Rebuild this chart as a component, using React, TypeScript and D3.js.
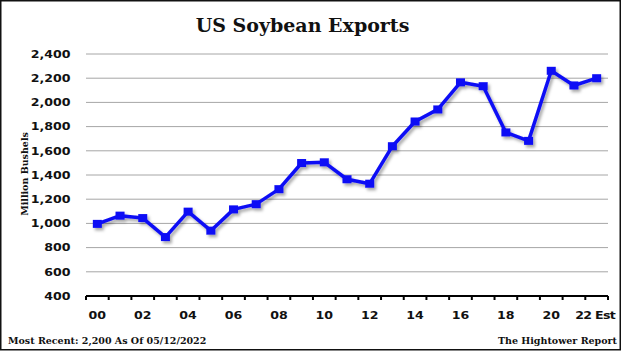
import React, { useEffect, useRef } from 'react';
import * as d3 from 'd3';

const years = ['00', '01', '02', '03', '04', '05', '06', '07', '08', '09', '10', '11', '12', '13', '14', '15', '16', '17', '18', '19', '20', '21', '22'];
const exportsMb = [996, 1064, 1044, 887, 1097, 940, 1116, 1159, 1283, 1499, 1505, 1365, 1328, 1638, 1842, 1942, 2166, 2134, 1752, 1682, 2261, 2140, 2200];
const yTicks = [400, 600, 800, 1000, 1200, 1400, 1600, 1800, 2000, 2200, 2400];
const xLabels: Record<string, string> = {
  '00': '00', '02': '02', '04': '04', '06': '06', '08': '08', '10': '10',
  '12': '12', '14': '14', '16': '16', '18': '18', '20': '20', '22': '22 Est'
};

const App = () => {
  const svgRef = useRef<SVGSVGElement>(null);

  useEffect(() => {
    const width = 624;
    const height = 353;
    const left = 86, right = 608, top = 54, bottom = 296;
    // the original picture is stretched sideways, so the tick text is too
    const stretch = 'scale(1.2,1)';

    const svg = d3.select(svgRef.current)
      .attr('width', width)
      .attr('height', height);
    svg.selectAll('*').remove();

    const defs = svg.append('defs');
    defs.append('filter')
      .attr('id', 'shadow')
      .attr('x', '-10%').attr('y', '-10%')
      .attr('width', '130%').attr('height', '130%')
      .append('feDropShadow')
      .attr('dx', 2).attr('dy', 2.5)
      .attr('stdDeviation', 1.5)
      .attr('flood-color', '#000')
      .attr('flood-opacity', 0.35);

    svg.append('rect')
      .attr('width', width).attr('height', height)
      .attr('fill', 'white');
    svg.append('rect')
      .attr('x', 0.75).attr('y', 0.75)
      .attr('width', 619.5).attr('height', 349)
      .attr('fill', 'white')
      .attr('stroke', '#111')
      .attr('stroke-width', 1.5);

    const x = d3.scaleBand().domain(years).range([left, right]);
    const y = d3.scaleLinear().domain([400, 2400]).range([bottom, top]);

    // gridlines
    svg.append('g')
      .selectAll('line')
      .data(yTicks.slice(1))
      .enter()
      .append('line')
      .attr('x1', left).attr('x2', right)
      .attr('y1', d => y(d)).attr('y2', d => y(d))
      .attr('stroke', '#a6a6a6')
      .attr('stroke-width', 1);

    // y labels
    svg.append('g')
      .selectAll('text')
      .data(yTicks)
      .enter()
      .append('text')
      .attr('transform', d => `translate(70.5,${y(d) + 3.8}) ${stretch}`)
      .attr('text-anchor', 'end')
      .attr('font-family', 'DejaVu Sans')
      .attr('font-weight', 'bold')
      .attr('font-size', '10.5px')
      .attr('fill', '#111')
      .text(d => d3.format(',')(d));

    // x axis
    const bounds = years.map(d => x(d) as number).concat([right]);
    svg.append('line')
      .attr('x1', left).attr('x2', right)
      .attr('y1', bottom).attr('y2', bottom)
      .attr('stroke', '#000')
      .attr('stroke-width', 2.2);
    svg.append('g')
      .selectAll('line')
      .data(bounds)
      .enter()
      .append('line')
      .attr('x1', d => d).attr('x2', d => d)
      .attr('y1', bottom).attr('y2', bottom + 4)
      .attr('stroke', '#000')
      .attr('stroke-width', 2);

    svg.append('g')
      .selectAll('text')
      .data(years.filter(d => xLabels[d]))
      .enter()
      .append('text')
      .attr('transform', d => `translate(${(x(d) as number) + x.bandwidth() / 2 - (d === '22' ? 1.5 : 0)},319) ${stretch}`)
      .attr('text-anchor', 'middle')
      .attr('font-family', 'DejaVu Sans')
      .attr('font-weight', 'bold')
      .attr('font-size', '10.5px')
      .attr('letter-spacing', d => (d === '22' ? '-0.6px' : null))
      .attr('fill', '#111')
      .text(d => xLabels[d]);

    // series
    const cx = (d: string) => (x(d) as number) + x.bandwidth() / 2;
    const line = d3.line<number>()
      .x((d, i) => cx(years[i]))
      .y(d => y(d));
    const series = svg.append('g').attr('filter', 'url(#shadow)');
    series.append('path')
      .datum(exportsMb)
      .attr('d', line)
      .attr('fill', 'none')
      .attr('stroke', '#0c0cf5')
      .attr('stroke-width', 3.5)
      .attr('stroke-linejoin', 'round');
    series.selectAll('rect')
      .data(exportsMb)
      .enter()
      .append('rect')
      .attr('x', (d, i) => cx(years[i]) - 4.5)
      .attr('y', d => y(d) - 4)
      .attr('width', 9)
      .attr('height', 8)
      .attr('fill', '#0c0cf5');

    // title and notes
    svg.append('text')
      .attr('x', 302.5).attr('y', 31.5)
      .attr('text-anchor', 'middle')
      .attr('font-family', 'DejaVu Serif')
      .attr('font-weight', 'bold')
      .attr('font-size', '19px')
      .attr('fill', '#111')
      .text('US Soybean Exports');

    svg.append('text')
      .attr('transform', 'translate(28,174) rotate(-90)')
      .attr('text-anchor', 'middle')
      .attr('font-family', 'DejaVu Serif')
      .attr('font-weight', 'bold')
      .attr('font-size', '9.5px')
      .attr('fill', '#111')
      .text('Million Bushels');

    svg.append('text')
      .attr('x', 8).attr('y', 343.5)
      .attr('font-family', 'DejaVu Serif')
      .attr('font-weight', 'bold')
      .attr('font-size', '9.5px')
      .attr('fill', '#111')
      .text('Most Recent: 2,200 As Of 05/12/2022');

    svg.append('text')
      .attr('x', 617).attr('y', 343.5)
      .attr('text-anchor', 'end')
      .attr('font-family', 'DejaVu Serif')
      .attr('font-weight', 'bold')
      .attr('font-size', '9.5px')
      .attr('fill', '#111')
      .text('The Hightower Report');
  }, []);

  return <svg ref={svgRef} style={{ position: 'absolute', left: 0, top: 0 }} />;
};

export default App;
